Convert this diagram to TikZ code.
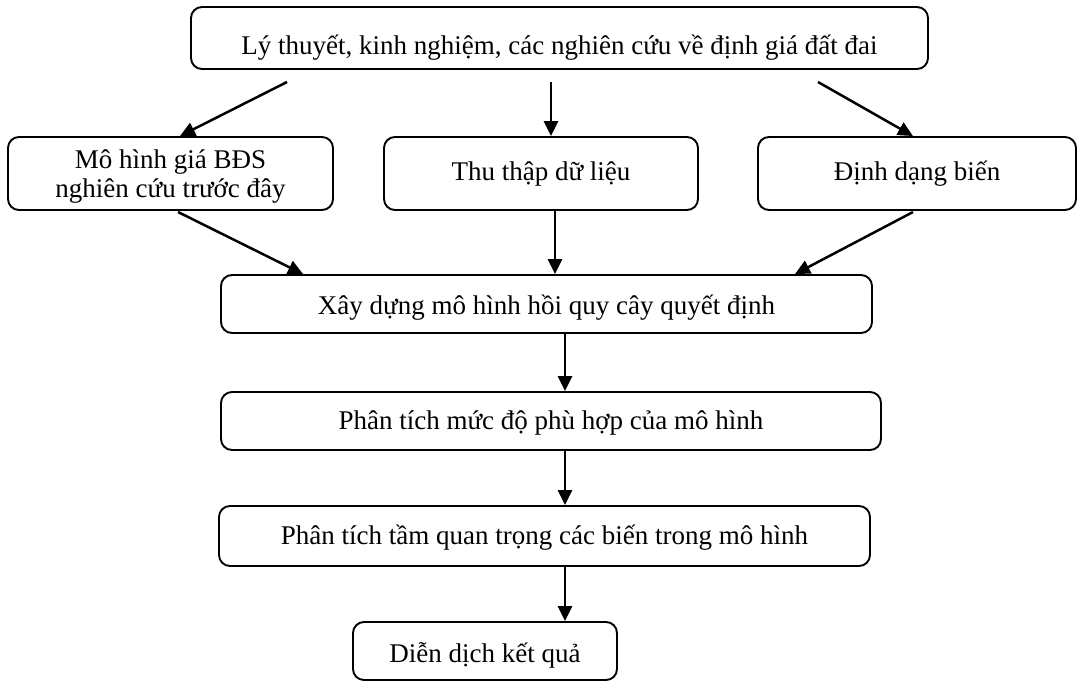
\documentclass[tikz,border=0pt]{standalone}
\usepackage{fontspec}
\setmainfont{Liberation Serif}
\usetikzlibrary{arrows.meta}
\newcommand{\dn}[2]{\raisebox{-#1pt}[\height][\depth]{#2}}
\begin{document}
\begin{tikzpicture}[x=1pt,y=-1pt,
  box/.style={draw, line width=1.9pt, rounded corners=11pt, inner sep=0pt, align=center,
    font=\fontsize{27}{29}\selectfont},
  arr/.style={line width=2.5pt, -{Triangle[length=15pt,width=14pt]}}]
\useasboundingbox (0,0) rectangle (1078,680);
\node[box, minimum width=737pt, minimum height=62pt] (top) at (559.5,38) {\dn{10}{Lý thuyết, kinh nghiệm, các nghiên cứu về định giá đất đai}};
\node[box, minimum width=325pt, minimum height=73pt] (A) at (170.5,173.5) {\dn{3}{\shortstack{Mô hình giá BĐS\\[2pt]nghiên cứu trước đây}}};
\node[box, minimum width=314pt, minimum height=73pt] (B) at (541,173.5) {\dn{0}{Thu thập dữ liệu}};
\node[box, minimum width=318pt, minimum height=73pt] (C) at (917,173.5) {\dn{0}{Định dạng biến}};
\node[box, minimum width=651pt, minimum height=58pt] (X) at (546.5,304) {\dn{4}{Xây dựng mô hình hồi quy cây quyết định}};
\node[box, minimum width=660pt, minimum height=58pt] (P1) at (551,421) {\dn{2}{Phân tích mức độ phù hợp của mô hình}};
\node[box, minimum width=651pt, minimum height=60pt] (P2) at (544.5,536) {\dn{2}{Phân tích tầm quan trọng các biến trong mô hình}};
\node[box, minimum width=264pt, minimum height=58pt] (D) at (485,651) {\dn{4}{Diễn dịch kết quả}};
\coordinate (s1) at (287,82);
\coordinate (s2) at (551,82);
\coordinate (s3) at (818,82);
\coordinate (s4) at (178,212);
\coordinate (s5) at (555,211);
\coordinate (s6) at (913,212);
\draw[arr] (s1) -- (A.north -| 180,0);
\draw[arr] (s2) -- (B.north -| 551,0);
\draw[arr] (s3) -- (C.north -| 913,0);
\draw[arr] (s4) -- (X.north -| 303,0);
\draw[arr] (s5) -- (X.north -| 555,0);
\draw[arr] (s6) -- (X.north -| 795,0);
\draw[arr] (X.south -| 565,0) -- (P1.north -| 565,0);
\draw[arr] (P1.south -| 565,0) -- (P2.north -| 565,0);
\draw[arr] (P2.south -| 565,0) -- (D.north -| 565,0);
\end{tikzpicture}
\end{document}
